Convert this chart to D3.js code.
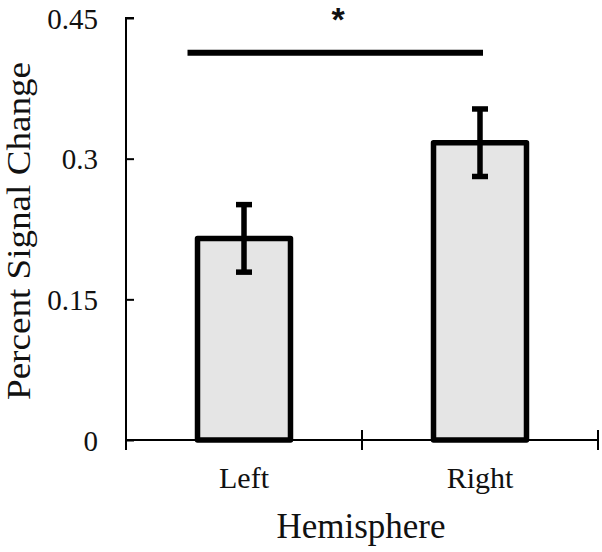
<!DOCTYPE html>
<html>
<head>
<meta charset="utf-8">
<script src="https://cdn.jsdelivr.net/npm/d3@7/dist/d3.min.js"></script>
<style>
  html, body { margin: 0; padding: 0; background: #fff; }
  svg { display: block; }
  text { font-family: "Liberation Serif", "Times New Roman", serif; fill: #111; }
</style>
</head>
<body>
<svg id="chart" width="602" height="552"></svg>
<script>
// ---- data ----
const categories = ["Left", "Right"];
const means = [0.215, 0.317];
const errors = [0.036, 0.036];
const yTicks = [0, 0.15, 0.3, 0.45];
const yTickLabels = ["0", "0.15", "0.3", "0.45"];
const yTitle = "Percent Signal Change";
const xTitle = "Hemisphere";
const sigLevel = 0.413;
const sigLabel = "*";

// ---- layout ----
const svg = d3.select("#chart");
const pLeft = 126, pRight = 598, pTop = 18, pBottom = 440;

const x = d3.scaleBand().domain(categories).range([pLeft, pRight]).paddingInner(0.606).paddingOuter(0.303);
const y = d3.scaleLinear().domain([0, 0.45]).range([pBottom, pTop]);

// bars
svg.append("g").selectAll("rect").data(categories).join("rect")
  .attr("x", d => x(d))
  .attr("y", (d, i) => y(means[i]))
  .attr("width", x.bandwidth())
  .attr("height", (d, i) => y(0) - y(means[i]))
  .attr("fill", "#e5e5e5")
  .attr("stroke", "#000")
  .attr("stroke-width", 5.5)
  .attr("stroke-linejoin", "round");

// error bars
const eb = svg.append("g");
categories.forEach((c, i) => {
  const cx = x(c) + x.bandwidth() / 2;
  const hi = y(means[i] + errors[i]), lo = y(means[i] - errors[i]);
  eb.append("line").attr("x1", cx).attr("x2", cx).attr("y1", hi).attr("y2", lo)
    .attr("stroke", "#000").attr("stroke-width", 5.5);
  [hi, lo].forEach(yy => {
    eb.append("line").attr("x1", cx - 8).attr("x2", cx + 8).attr("y1", yy).attr("y2", yy)
      .attr("stroke", "#000").attr("stroke-width", 5.5);
  });
});

// y axis
const yAxis = d3.axisRight(y).tickValues(yTicks).tickSize(8).tickFormat((d, i) => yTickLabels[i]);
const gy = svg.append("g").attr("transform", `translate(${pLeft},0)`).call(yAxis);
gy.select(".domain").attr("d", `M8,${pTop}H0V${pBottom}`).attr("stroke", "#000").attr("stroke-width", 2).attr("fill", "none");
gy.selectAll(".tick line").attr("stroke", "#000").attr("stroke-width", 2);
gy.selectAll(".tick text").attr("x", -28).attr("text-anchor", "end").attr("dy", "0.35em")
  .attr("font-size", 29).attr("fill", "#111")
  .style("font-family", '"Liberation Serif", "Times New Roman", serif');

// x axis
const gx = svg.append("g").attr("transform", `translate(0,${pBottom})`);
gx.append("line").attr("x1", pLeft).attr("x2", pRight).attr("y1", 0).attr("y2", 0)
  .attr("stroke", "#000").attr("stroke-width", 2);
const xEdges = [pLeft, ...categories.slice(1).map(c => x(c) - x.step() * x.paddingInner() / 2), pRight];
gx.selectAll(".xt").data(xEdges).join("line")
  .attr("x1", d => d).attr("x2", d => d)
  .attr("y1", (d, i) => i === 0 ? 0 : -10).attr("y2", 10)
  .attr("stroke", "#000").attr("stroke-width", 2);
gx.selectAll(".xl").data(categories).join("text")
  .attr("x", d => x(d) + x.bandwidth() / 2)
  .attr("y", 48)
  .attr("text-anchor", "middle")
  .attr("font-size", 30)
  .text(d => d);

// axis titles
svg.append("text").attr("x", 361).attr("y", 538).attr("text-anchor", "middle")
  .attr("font-size", 35).text(xTitle);
svg.append("text").attr("transform", "translate(30,231) rotate(-90)")
  .attr("text-anchor", "middle").attr("font-size", 34)
  .attr("textLength", 338).attr("lengthAdjust", "spacingAndGlyphs")
  .text(yTitle);

// significance line
const sx1 = x(categories[0]) - 10;
const sx2 = x(categories[1]) + x.bandwidth() / 2 + 3;
svg.append("line").attr("x1", sx1).attr("x2", sx2).attr("y1", y(sigLevel)).attr("y2", y(sigLevel))
  .attr("stroke", "#000").attr("stroke-width", 6);
svg.append("text").attr("x", 338).attr("y", 31)
  .attr("text-anchor", "middle").attr("font-size", 34).attr("font-weight", "bold")
  .style("font-family", '"Liberation Sans", Arial, sans-serif')
  .text(sigLabel);
</script>
</body>
</html>
